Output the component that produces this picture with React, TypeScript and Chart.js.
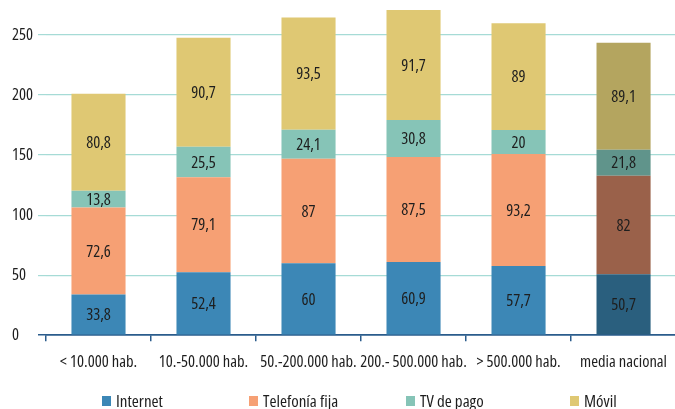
import React, { useEffect, useRef } from "react";
import { Chart, registerables } from "chart.js";

Chart.register(...registerables);

const categories = ["< 10.000 hab.", "10.-50.000 hab.", "50.-200.000 hab.", "200.- 500.000 hab.", "> 500.000 hab.", "media nacional"];
const seriesNames = ["Internet", "Telefonía fija", "TV de pago", "Móvil"];
const internet = [33.8, 52.4, 60, 60.9, 57.7, 50.7];
const telefonia = [72.6, 79.1, 87, 87.5, 93.2, 82];
const tvPago = [13.8, 25.5, 24.1, 30.8, 20, 21.8];
const movil = [80.8, 90.7, 93.5, 91.7, 89, 89.1];
const yTicks = [0, 50, 100, 150, 200, 250];

const FAMILY = "'Open Sans', 'Roboto Condensed', sans-serif";
const STRETCH = "condensed";
const baseColors = ["#3c87b6", "#f6a074", "#86c4b7", "#dfc873"];
const avgColors = ["#2a5f7e", "#9a614a", "#60948b", "#b4a55f"];
const TEXT = "#1e1e1e";
const AXIS = "#2b5c8c";
const GRID = "#a6dbd6";

const fmt = (v: number) => String(v).replace(".", ",");

const valueLabels = {
  id: "valueLabels",
  afterDatasetsDraw(chart: any) {
    const ctx = chart.ctx;
    ctx.save();
    ctx.font = `${STRETCH} 16.5px ${FAMILY}`;
    ctx.fillStyle = TEXT;
    ctx.textAlign = "center";
    ctx.textBaseline = "middle";
    chart.data.datasets.forEach((ds: any, i: number) => {
      const meta = chart.getDatasetMeta(i);
      meta.data.forEach((el: any, j: number) => {
        const p = el.getProps(["x", "y", "base"], true);
        ctx.fillText(fmt(ds.data[j]), p.x, (p.y + p.base) / 2 + 1);
      });
    });
    ctx.restore();
  },
};

const legendOffsets = [102, 249, 406, 570];

const customLegend = {
  id: "customLegend",
  afterDraw(chart: any) {
    const ctx = chart.ctx;
    ctx.save();
    ctx.font = `${STRETCH} 17px ${FAMILY}`;
    ctx.textAlign = "left";
    ctx.textBaseline = "middle";
    const yc = 401;
    chart.data.datasets.forEach((ds: any, i: number) => {
      const x = legendOffsets[i];
      ctx.fillStyle = baseColors[i];
      ctx.fillRect(x, yc - 5, 9, 10);
      ctx.fillStyle = TEXT;
      ctx.fillText(ds.label, x + 14, yc + 1);
    });
    ctx.restore();
  },
};

export default function App() {
  const ref = useRef<HTMLCanvasElement>(null);
  useEffect(() => {
    if (!ref.current) return;
    const series = [internet, telefonia, tvPago, movil];
    const chart = new Chart(ref.current, {
      type: "bar",
      data: {
        labels: categories,
        datasets: series.map((d, i) => ({
          label: seriesNames[i],
          data: d,
          backgroundColor: categories.map((_, j) => (j === categories.length - 1 ? avgColors[i] : baseColors[i])),
          borderWidth: 0,
          categoryPercentage: 1,
          barPercentage: 0.515,
        })),
      },
      options: {
        animation: false,
        responsive: true,
        maintainAspectRatio: false,
        layout: { padding: { left: 12, right: 0, top: 5, bottom: 26 } },
        plugins: { legend: { display: false }, tooltip: { enabled: false } },
        scales: {
          x: {
            stacked: true,
            border: { display: true, color: AXIS, width: 1.5 },
            grid: { display: true, drawOnChartArea: false, drawTicks: true, tickLength: 6, color: AXIS, lineWidth: 1.5, offset: true },
            ticks: { color: TEXT, font: { family: FAMILY, size: 16.5, weight: STRETCH as any }, padding: 11, maxRotation: 0, autoSkip: false },
          },
          y: {
            stacked: true,
            min: 0,
            max: 275,
            afterBuildTicks: (axis: any) => {
              axis.ticks = yTicks.map((v) => ({ value: v }));
            },
            afterFit: (axis: any) => {
              axis.width = 34;
              axis.paddingTop = 0;
              axis.paddingBottom = 0;
            },
            border: { display: false },
            grid: {
              color: (c: any) => (c.tick && c.tick.value === 0 ? AXIS : GRID),
              lineWidth: (c: any) => (c.tick && c.tick.value === 0 ? 1.5 : 1.2),
              drawTicks: true,
              tickLength: 8,
            },
            ticks: { color: TEXT, font: { family: FAMILY, size: 16.5, weight: STRETCH as any }, padding: 4, crossAlign: "far" },
          },
        },
      },
      plugins: [valueLabels, customLegend],
    });
    return () => chart.destroy();
  }, []);
  return (
    <div style={{ position: "fixed", left: 0, top: 0, width: 675, height: 409, overflow: "hidden", background: "#fff" }}>
      <div style={{ position: "relative", width: 678, height: 409 }}>
        <canvas ref={ref} />
      </div>
    </div>
  );
}
